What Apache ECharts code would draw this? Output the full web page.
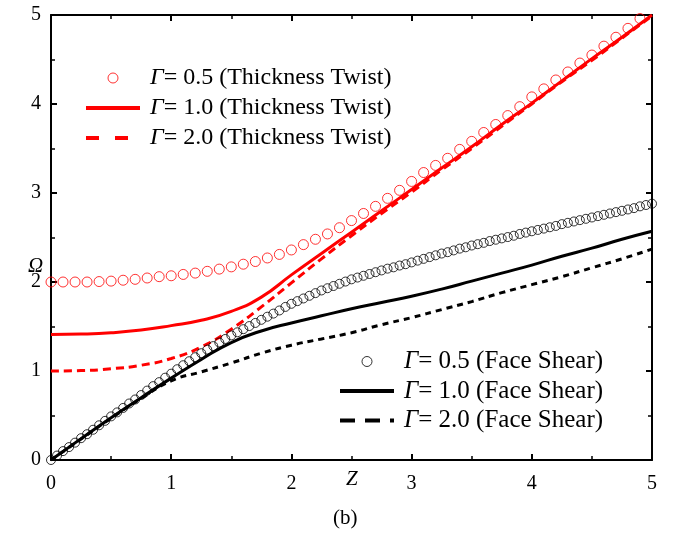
<!DOCTYPE html>
<html><head><meta charset="utf-8">
<script src="https://cdn.jsdelivr.net/npm/echarts@6/dist/echarts.min.js"></script>
<style>html,body{margin:0;padding:0;background:#fff}#c{width:673px;height:559px}</style>
</head><body><div id="c"></div>
<script>
// ---- data ----
const zLine = [0,0.25,0.5,0.75,1.0,1.25,1.5,1.75,2.0,2.25,2.5,2.75,3.0,3.25,3.5,3.75,4.0,4.25,4.5,4.75,5.0];
const ttG10 = [1.41,1.415,1.43,1.46,1.51,1.57,1.67,1.83,2.08,2.32,2.56,2.80,3.04,3.28,3.52,3.77,4.01,4.26,4.51,4.75,5.0];
const ttG20 = [1.0,1.005,1.025,1.065,1.14,1.27,1.47,1.72,1.99,2.26,2.52,2.77,3.01,3.26,3.50,3.75,4.0,4.25,4.49,4.74,4.99];
const fsG10 = [0,0.24,0.475,0.70,0.92,1.13,1.32,1.45,1.54,1.62,1.70,1.77,1.84,1.92,2.01,2.10,2.19,2.29,2.38,2.48,2.57];
const fsG20 = [0,0.235,0.47,0.69,0.89,0.99,1.09,1.20,1.29,1.36,1.43,1.52,1.60,1.69,1.78,1.88,1.97,2.06,2.16,2.26,2.37];
const zTT05 = [0,0.1,0.2,0.3,0.4,0.5,0.6,0.7,0.8,0.9,1.0,1.1,1.2,1.3,1.4,1.5,1.6,1.7,1.8,1.9,2.0,2.1,2.2,2.3,2.4,2.5,2.6,2.7,2.8,2.9,3.0,3.1,3.2,3.3,3.4,3.5,3.6,3.7,3.8,3.9,4.0,4.1,4.2,4.3,4.4,4.5,4.6,4.7,4.8,4.9,5.0];
const ttG05 = [2.00,2.00,2.00,2.00,2.005,2.01,2.02,2.03,2.045,2.06,2.07,2.085,2.10,2.12,2.145,2.17,2.20,2.23,2.27,2.31,2.36,2.42,2.48,2.54,2.61,2.69,2.77,2.85,2.94,3.03,3.13,3.23,3.31,3.39,3.49,3.58,3.68,3.77,3.87,3.97,4.08,4.17,4.27,4.36,4.46,4.55,4.65,4.75,4.85,4.96,5.05];
const zFS05 = [0,0.05,0.1,0.15,0.2,0.25,0.3,0.35,0.4,0.45,0.5,0.55,0.6,0.65,0.7,0.75,0.8,0.85,0.9,0.95,1.0,1.05,1.1,1.15,1.2,1.25,1.3,1.35,1.4,1.45,1.5,1.55,1.6,1.65,1.7,1.75,1.8,1.85,1.9,1.95,2.0,2.05,2.1,2.15,2.2,2.25,2.3,2.35,2.4,2.45,2.5,2.55,2.6,2.65,2.7,2.75,2.8,2.85,2.9,2.95,3.0,3.05,3.1,3.15,3.2,3.25,3.3,3.35,3.4,3.45,3.5,3.55,3.6,3.65,3.7,3.75,3.8,3.85,3.9,3.95,4.0,4.05,4.1,4.15,4.2,4.25,4.3,4.35,4.4,4.45,4.5,4.55,4.6,4.65,4.7,4.75,4.8,4.85,4.9,4.95,5.0];
const fsG05 = [0,0.05,0.10,0.145,0.195,0.245,0.29,0.34,0.39,0.44,0.49,0.535,0.585,0.635,0.68,0.73,0.78,0.83,0.875,0.925,0.97,1.02,1.065,1.11,1.155,1.20,1.24,1.28,1.32,1.36,1.40,1.435,1.47,1.505,1.54,1.575,1.61,1.645,1.68,1.72,1.755,1.785,1.815,1.845,1.875,1.905,1.93,1.955,1.98,2.005,2.03,2.05,2.07,2.09,2.11,2.13,2.15,2.165,2.185,2.20,2.22,2.24,2.26,2.28,2.30,2.32,2.335,2.355,2.375,2.39,2.41,2.425,2.44,2.46,2.475,2.49,2.505,2.52,2.54,2.555,2.57,2.585,2.60,2.615,2.63,2.65,2.665,2.68,2.695,2.71,2.725,2.74,2.755,2.77,2.785,2.80,2.815,2.83,2.85,2.865,2.88];
const xTicks = [0,1,2,3,4,5];
const yTicks = [0,1,2,3,4,5];
const names = ['Γ= 0.5 (Thickness Twist)','Γ= 1.0 (Thickness Twist)','Γ= 2.0 (Thickness Twist)','Γ= 0.5 (Face Shear)','Γ= 1.0 (Face Shear)','Γ= 2.0 (Face Shear)'];

const pair = (xs, ys) => xs.map((x, i) => [x, ys[i]]);
const FONT = '"Liberation Serif", "DejaVu Serif", serif';
const chart = echarts.init(document.getElementById('c'));

const axisCommon = {
  min: 0, max: 5, interval: 1,
  axisLine: {show: true, onZero: false, lineStyle: {color: '#000', width: 2}},
  axisTick: {show: true, inside: true, length: 6, lineStyle: {color: '#000', width: 2}},
  minorTick: {show: true, splitNumber: 2, length: 4, lineStyle: {color: '#000', width: 1.5}},
  splitLine: {show: false}
};
const labelStyle = {show: true, color: '#000', fontFamily: FONT, fontSize: 20, margin: 14,
  formatter: v => (xTicks.indexOf(v) >= 0 ? String(v) : '')};

const legendFormatter = name => '{g|Γ}{t|' + name.slice(1) + '}';
const mkRich = fs => ({
  g: {fontFamily: FONT, fontStyle: 'italic', fontSize: fs, lineHeight: 24, color: '#000', padding: [0, 0, 0, 5]},
  t: {fontFamily: FONT, fontSize: fs, lineHeight: 24, color: '#000'}
});
const hideSym = {opacity: 0};

chart.setOption({
  animation: false,
  backgroundColor: '#fff',
  grid: {left: 51, right: 21, top: 15, bottom: 99, containLabel: false},
  xAxis: [
    Object.assign({type: 'value', position: 'bottom', axisLabel: labelStyle}, axisCommon),
    Object.assign({type: 'value', position: 'top', axisLabel: {show: false}}, axisCommon)
  ],
  yAxis: [
    Object.assign({type: 'value', position: 'left', axisLabel: Object.assign({}, labelStyle, {margin: 10,
      formatter: v => (yTicks.indexOf(v) >= 0 ? String(v) : '')})}, axisCommon),
    Object.assign({type: 'value', position: 'right', axisLabel: {show: false}}, axisCommon)
  ],
  legend: [
    {
      orient: 'vertical', left: 84, top: 66, itemWidth: 54, itemHeight: 10, itemGap: 6, padding: 0,
      data: [
        {name: names[0], icon: 'circle', itemStyle: {color: 'rgba(0,0,0,0)', borderColor: '#ff0000', borderWidth: 1}},
        {name: names[1], itemStyle: hideSym, lineStyle: {width: 4}},
        {name: names[2], itemStyle: hideSym, lineStyle: {width: 4, type: [13, 16]}}
      ],
      formatter: legendFormatter, textStyle: {rich: mkRich(24)}, selectedMode: false
    },
    {
      orient: 'vertical', left: 338, top: 349, itemWidth: 54, itemHeight: 10, itemGap: 4.5, padding: 0,
      data: [
        {name: names[3], icon: 'circle', itemStyle: {color: 'rgba(0,0,0,0)', borderColor: '#000', borderWidth: 1}},
        {name: names[4], itemStyle: hideSym, lineStyle: {width: 4}},
        {name: names[5], itemStyle: hideSym, lineStyle: {width: 4, type: [15, 10]}}
      ],
      formatter: legendFormatter, textStyle: {rich: mkRich(25)}, selectedMode: false
    }
  ],
  series: [
    {name: names[1], type: 'line', smooth: true, symbol: 'none', data: pair(zLine, ttG10),
      lineStyle: {color: '#ff0000', width: 3}, itemStyle: {color: '#ff0000'}, z: 2},
    {name: names[2], type: 'line', smooth: true, symbol: 'none', data: pair(zLine, ttG20),
      lineStyle: {color: '#ff0000', width: 3, type: [8, 5]}, itemStyle: {color: '#ff0000'}, z: 2},
    {name: names[4], type: 'line', smooth: true, symbol: 'none', data: pair(zLine, fsG10),
      lineStyle: {color: '#000', width: 3}, itemStyle: {color: '#000'}, z: 2},
    {name: names[5], type: 'line', smooth: true, symbol: 'none', data: pair(zLine, fsG20),
      lineStyle: {color: '#000', width: 3, type: [6, 5]}, itemStyle: {color: '#000'}, z: 2},
    {name: names[0], type: 'scatter', symbol: 'circle', symbolSize: 10, data: pair(zTT05, ttG05),
      itemStyle: {color: 'rgba(0,0,0,0)', borderColor: '#ff0000', borderWidth: 1}, z: 3},
    {name: names[3], type: 'scatter', symbol: 'circle', symbolSize: 9, data: pair(zFS05, fsG05),
      itemStyle: {color: 'rgba(0,0,0,0)', borderColor: '#000', borderWidth: 1}, z: 3}
  ],
  graphic: [
    {type: 'text', left: 346, top: 469, style: {text: 'Z', fontFamily: FONT, fontStyle: 'italic', fontSize: 21, fill: '#000'}},
    {type: 'text', left: 28, top: 256, style: {text: 'Ω', fontFamily: FONT, fontStyle: 'italic', fontSize: 21, fill: '#000'}},
    {type: 'text', left: 333, top: 508, style: {text: '(b)', fontFamily: FONT, fontSize: 21, fill: '#000'}}
  ]
});
</script></body></html>
